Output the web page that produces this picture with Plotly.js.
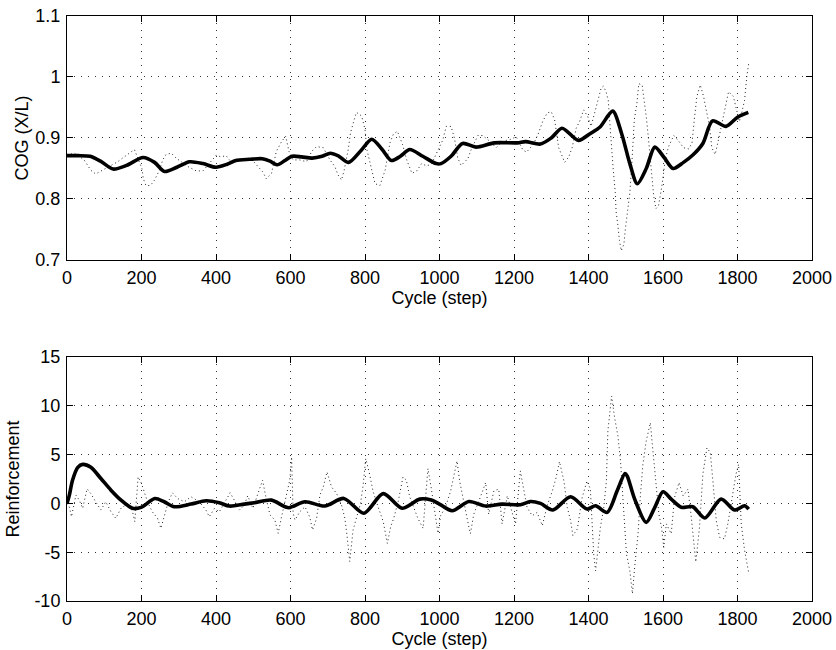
<!DOCTYPE html>
<html>
<head>
<meta charset="utf-8">
<script src="https://cdn.plot.ly/plotly-3.0.1.min.js"></script>
<style>html,body{margin:0;padding:0;background:#fff;}#chart{width:836px;height:650px;}</style>
</head>
<body>
<div id="chart"></div>
<script>
// ---- Top panel: COG (X/L) ----
const cogSmoothX = [0, 30, 62, 90, 124, 160, 204, 235, 262, 295, 329, 365, 400, 430, 453, 490, 524, 545, 564, 585, 604, 630, 658, 685, 707, 730, 756, 790, 818, 845, 871, 895, 920, 955, 991, 1004, 1031, 1062, 1098, 1147, 1209, 1231, 1271, 1300, 1329, 1373, 1404, 1431, 1465, 1489, 1510, 1531, 1555, 1578, 1603, 1627, 1655, 1680, 1707, 1733, 1769, 1800, 1829];
const cogSmoothY = [0.871, 0.871, 0.870, 0.862, 0.849, 0.855, 0.868, 0.860, 0.845, 0.852, 0.861, 0.858, 0.852, 0.857, 0.863, 0.865, 0.866, 0.862, 0.856, 0.863, 0.870, 0.869, 0.867, 0.870, 0.875, 0.870, 0.860, 0.880, 0.898, 0.882, 0.863, 0.870, 0.881, 0.870, 0.858, 0.858, 0.870, 0.891, 0.885, 0.892, 0.892, 0.894, 0.890, 0.900, 0.916, 0.896, 0.907, 0.918, 0.944, 0.907, 0.860, 0.825, 0.850, 0.885, 0.868, 0.850, 0.860, 0.872, 0.891, 0.928, 0.919, 0.934, 0.942];

const cogRawX = [0, 20, 46, 64, 77, 95, 136, 149, 167, 181, 201, 205, 212, 224, 235, 248, 257, 266, 280, 293, 325, 347, 365, 401, 413, 427, 440, 476, 494, 526, 535, 549, 562, 576, 587, 596, 607, 625, 643, 657, 670, 688, 706, 719, 728, 737, 744, 755, 761, 770, 777, 791, 800, 805, 813, 821, 827, 840, 846, 854, 858, 867, 876, 887, 901, 912, 926, 939, 952, 966, 979, 993, 1009, 1018, 1031, 1040, 1049, 1058, 1076, 1085, 1103, 1116, 1134, 1152, 1170, 1188, 1206, 1224, 1234, 1251, 1264, 1277, 1289, 1300, 1309, 1320, 1327, 1336, 1347, 1356, 1367, 1376, 1387, 1398, 1407, 1416, 1425, 1434, 1440, 1447, 1453, 1458, 1461, 1466, 1472, 1474, 1479, 1483, 1488, 1495, 1499, 1504, 1511, 1517, 1523, 1530, 1535, 1544, 1550, 1556, 1562, 1568, 1571, 1575, 1581, 1588, 1597, 1606, 1615, 1629, 1642, 1655, 1669, 1678, 1684, 1691, 1700, 1709, 1716, 1725, 1731, 1740, 1749, 1758, 1770, 1776, 1789, 1798, 1805, 1812, 1819, 1825, 1830];
const cogRawY = [0.872, 0.875, 0.864, 0.847, 0.841, 0.847, 0.861, 0.867, 0.875, 0.881, 0.850, 0.833, 0.822, 0.822, 0.831, 0.847, 0.864, 0.873, 0.875, 0.867, 0.853, 0.846, 0.846, 0.872, 0.869, 0.871, 0.861, 0.864, 0.866, 0.844, 0.833, 0.842, 0.878, 0.894, 0.903, 0.878, 0.864, 0.864, 0.861, 0.878, 0.886, 0.884, 0.864, 0.853, 0.839, 0.831, 0.847, 0.881, 0.908, 0.928, 0.942, 0.936, 0.914, 0.881, 0.861, 0.837, 0.825, 0.822, 0.833, 0.847, 0.861, 0.892, 0.906, 0.911, 0.889, 0.864, 0.842, 0.846, 0.858, 0.854, 0.858, 0.875, 0.897, 0.919, 0.919, 0.900, 0.867, 0.855, 0.866, 0.881, 0.904, 0.904, 0.895, 0.884, 0.895, 0.897, 0.902, 0.880, 0.877, 0.889, 0.905, 0.927, 0.941, 0.943, 0.930, 0.884, 0.872, 0.860, 0.869, 0.884, 0.916, 0.927, 0.946, 0.935, 0.919, 0.941, 0.962, 0.982, 0.985, 0.976, 0.962, 0.919, 0.886, 0.851, 0.810, 0.780, 0.756, 0.732, 0.715, 0.726, 0.751, 0.772, 0.810, 0.865, 0.930, 0.957, 0.989, 0.987, 0.962, 0.930, 0.892, 0.854, 0.827, 0.805, 0.784, 0.789, 0.821, 0.865, 0.886, 0.904, 0.895, 0.884, 0.882, 0.892, 0.930, 0.968, 0.987, 0.968, 0.946, 0.919, 0.884, 0.873, 0.897, 0.924, 0.954, 0.976, 0.968, 0.946, 0.927, 0.943, 0.962, 1.001, 1.022];

// ---- Bottom panel: Reinforcement ----
const reinSmoothX = [0, 6, 15, 29, 42, 64, 91, 118, 145, 176, 199, 236, 261, 288, 333, 373, 409, 436, 476, 503, 549, 594, 639, 692, 743, 797, 849, 900, 947, 978, 1000, 1034, 1079, 1124, 1168, 1217, 1244, 1271, 1304, 1352, 1396, 1419, 1450, 1477, 1498, 1504, 1524, 1555, 1578, 1600, 1622, 1649, 1680, 1712, 1756, 1792, 1819, 1830];
const reinSmoothY = [0.0, 0.8, 2.4, 3.7, 4.0, 3.7, 2.55, 1.36, 0.34, -0.5, -0.4, 0.5, 0.17, -0.34, -0.07, 0.27, 0.07, -0.27, -0.07, 0.07, 0.34, -0.44, 0.17, -0.27, 0.51, -1.0, 1.0, -0.5, 0.44, 0.34, -0.07, -0.75, 0.2, -0.27, -0.07, -0.14, 0.2, 0.0, -0.68, 0.68, -0.58, -0.24, -0.92, 1.3, 3.06, 2.8, 0.44, -1.94, -0.4, 1.19, 0.44, -0.4, -0.34, -1.5, 0.44, -0.68, -0.24, -0.58];

const reinRawX = [0, 6, 12, 24, 33, 42, 54, 64, 77, 91, 104, 118, 131, 145, 163, 176, 182, 188, 191, 200, 207, 216, 229, 243, 252, 261, 272, 283, 297, 315, 333, 355, 373, 382, 396, 409, 422, 438, 449, 463, 476, 485, 499, 509, 525, 532, 545, 558, 567, 576, 585, 591, 598, 603, 607, 612, 625, 639, 652, 659, 670, 679, 688, 698, 710, 724, 737, 746, 752, 759, 768, 777, 788, 795, 802, 811, 822, 835, 849, 860, 869, 877, 889, 902, 911, 920, 933, 942, 956, 965, 969, 978, 987, 996, 1003, 1016, 1030, 1038, 1047, 1054, 1061, 1070, 1079, 1083, 1092, 1106, 1124, 1132, 1146, 1159, 1168, 1182, 1195, 1204, 1217, 1223, 1235, 1249, 1262, 1276, 1289, 1303, 1313, 1322, 1334, 1343, 1352, 1358, 1370, 1383, 1396, 1405, 1410, 1414, 1419, 1425, 1432, 1441, 1448, 1452, 1462, 1470, 1479, 1486, 1495, 1502, 1511, 1518, 1524, 1533, 1539, 1546, 1555, 1566, 1573, 1582, 1589, 1596, 1602, 1609, 1622, 1631, 1643, 1654, 1667, 1676, 1688, 1698, 1707, 1718, 1727, 1734, 1743, 1752, 1765, 1774, 1786, 1796, 1803, 1810, 1819, 1828, 1830];
const reinRawY = [0.0, -0.34, -1.36, 0.85, 0.34, -0.5, 1.5, 1.0, 0.17, -0.68, 0.17, -0.85, -1.53, -0.5, 0.0, -0.85, -1.87, 2.04, 2.72, 2.04, 1.2, 0.17, -0.85, -1.53, -2.55, -1.2, 0.17, 1.09, 0.5, 0.17, 0.68, 0.17, -0.68, -1.36, -0.5, -0.85, 0.0, 1.09, 0.34, -0.68, -0.17, 0.78, -0.5, 0.68, 2.38, 1.0, -1.19, -1.7, -3.06, -1.36, 0.0, 1.19, 2.38, 4.76, -1.0, -1.7, -0.85, -0.34, -1.43, -2.72, -1.53, 0.85, 1.7, 3.23, 1.7, 1.0, -0.17, -1.53, -3.4, -5.95, -2.72, -1.53, 0.0, 1.87, 4.59, 3.23, 1.19, -0.34, -1.87, -4.1, -2.38, -1.53, 0.17, 2.72, 2.38, 0.68, -0.68, -1.53, -2.55, 1.87, 3.57, 1.53, -1.0, -3.06, -1.26, -0.41, 1.29, 2.65, 4.35, 2.3, 0.95, -1.1, -2.45, -3.1, -1.1, 0.27, 2.14, -1.1, 1.29, 1.46, -2.1, 0.78, -1.1, -2.1, 3.33, 1.97, -0.41, -1.26, -0.92, -2.28, -0.24, 1.29, 2.65, 4.29, 2.3, -0.41, -1.77, -3.3, -2.62, 0.61, 2.3, 1.46, -2.45, -5.2, -6.9, -4.8, -2.45, -0.41, 2.3, 7.4, 11.0, 8.8, 6.9, 4.35, -1.77, -5.2, -6.9, -9.25, -6.5, -3.1, 0.61, 4.0, 6.4, 8.27, 5.37, 1.29, -1.1, -2.45, -4.5, -2.1, -3.1, 0.61, 2.14, 0.78, 1.46, -1.43, -6.0, -2.45, 3.0, 5.7, 5.2, 2.3, -1.77, -3.47, -3.64, -2.1, 0.61, 3.0, 4.0, -2.1, -4.8, -6.5, -7.1];

// ---- Tick labels ----
const xTickVals = [0, 200, 400, 600, 800, 1000, 1200, 1400, 1600, 1800, 2000];
const cogTickVals = [0.7, 0.8, 0.9, 1.0, 1.1];
const cogTickText = ["0.7", "0.8", "0.9", "1", "1.1"];
const reinTickVals = [-10, -5, 0, 5, 10, 15];
const reinTickText = ["-10", "-5", "0", "5", "10", "15"];

const xLabel = "Cycle (step)";
const topYLabel = "COG (X/L)";
const botYLabel = "Reinforcement";

const FONT = {family: "Liberation Sans, Arial, sans-serif", size: 18, color: "#000"};

const rawLine = {color: "#222", width: 1, dash: "1px,3px"};
const smoothLine = {color: "#000", width: 3.6};

const traces = [
  {x: cogRawX, y: cogRawY, xaxis: "x", yaxis: "y", mode: "lines", line: rawLine, hoverinfo: "skip"},
  {x: cogSmoothX, y: cogSmoothY, xaxis: "x", yaxis: "y", mode: "lines", line: Object.assign({shape: "spline", smoothing: 0.8}, smoothLine)},
  {x: reinRawX, y: reinRawY, xaxis: "x2", yaxis: "y2", mode: "lines", line: rawLine, hoverinfo: "skip"},
  {x: reinSmoothX, y: reinSmoothY, xaxis: "x2", yaxis: "y2", mode: "lines", line: Object.assign({shape: "spline", smoothing: 0.8}, smoothLine)}
];

function xAxis(domainAnchor, titleStandoff) {
  return {
    range: [0, 2000], tickvals: xTickVals, anchor: domainAnchor,
    showline: true, mirror: "allticks", linecolor: "#000", linewidth: 1,
    ticks: "inside", ticklen: 6, tickcolor: "#000", ticklabelstandoff: 1,
    showgrid: true, gridcolor: "#333", gridwidth: 1, griddash: "1px,6px",
    zeroline: false, tickfont: FONT,
    title: {text: xLabel, font: FONT, standoff: titleStandoff}
  };
}
function yAxis(domain, range, vals, text, label, anchor, titleStandoff) {
  return {
    domain: domain, range: range, tickvals: vals, ticktext: text, anchor: anchor,
    showline: true, mirror: "allticks", linecolor: "#000", linewidth: 1,
    ticks: "inside", ticklen: 6, tickcolor: "#000", ticklabelstandoff: 2,
    showgrid: true, gridcolor: "#333", gridwidth: 1, griddash: "1px,6px",
    zeroline: false, tickfont: FONT,
    title: {text: label, font: FONT, standoff: titleStandoff}
  };
}

const layout = {
  width: 836, height: 650,
  margin: {l: 67, r: 24, t: 16, b: 49},
  paper_bgcolor: "#fff", plot_bgcolor: "#fff",
  showlegend: false,
  font: FONT,
  xaxis: xAxis("y", 1),
  yaxis: yAxis([0.583, 1], [0.7, 1.1], cogTickVals, cogTickText, topYLabel, "x", 2),
  xaxis2: xAxis("y2", 0),
  yaxis2: yAxis([0, 0.417], [-10, 15], reinTickVals, reinTickText, botYLabel, "x2", 10)
};

Plotly.newPlot("chart", traces, layout, {displayModeBar: false, staticPlot: true});
</script>
</body>
</html>
